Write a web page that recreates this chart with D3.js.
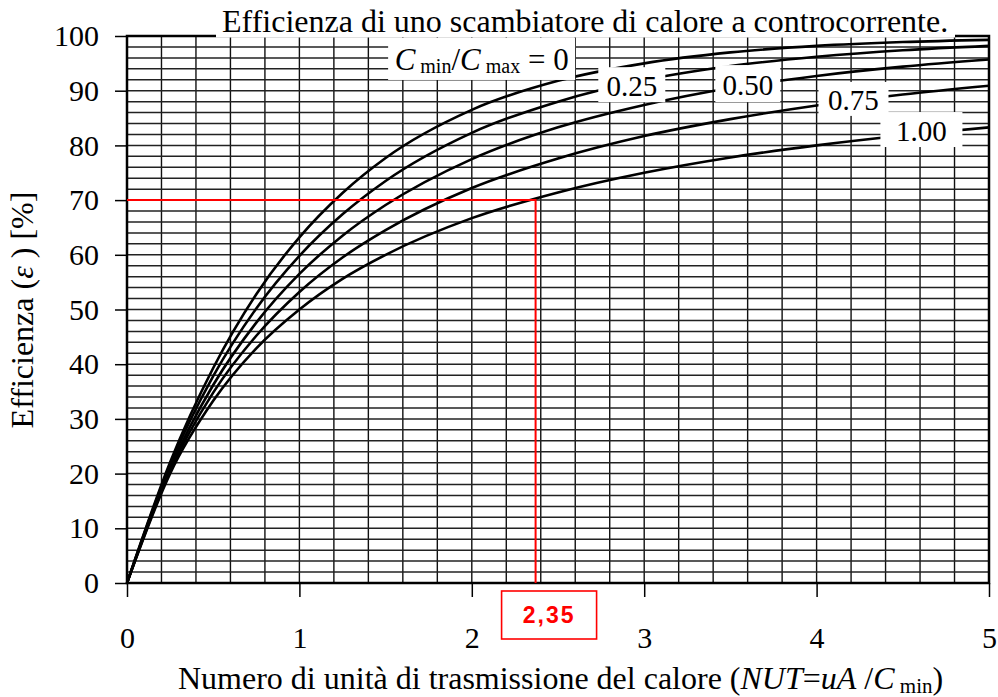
<!DOCTYPE html>
<html>
<head>
<meta charset="utf-8">
<script src="https://cdn.jsdelivr.net/npm/d3@7"></script>
<style>
body { margin: 0; background: #fff; }
text { font-family: "Liberation Serif", "Times New Roman", serif; fill: #000; }
</style>
</head>
<body>
<svg id="figure"></svg>
<script>
// NUT values and efficiency (%), one array per Cmin/Cmax
var nut    = [0, 0.25, 0.5, 0.75, 1, 1.25, 1.5, 2, 2.5, 3, 3.5, 4, 4.5, 5];
var eff0   = [0, 22.1, 39.3, 52.8, 63.2, 71.3, 77.7, 86.5, 91.8, 95.0, 97.0, 98.2, 98.9, 99.3];
var eff25  = [0, 21.6, 37.8, 50.2, 59.8, 67.4, 73.5, 82.3, 88.0, 91.9, 94.5, 96.2, 97.4, 98.2];
var eff50  = [0, 21.0, 36.2, 47.6, 56.5, 63.5, 69.1, 77.5, 83.3, 87.4, 90.5, 92.7, 94.4, 95.7];
var eff75  = [0, 20.5, 34.8, 45.2, 53.2, 59.5, 64.5, 72.2, 77.6, 81.7, 84.8, 87.3, 89.3, 90.9];
var eff100 = [0, 20.0, 33.3, 42.9, 50.0, 55.6, 60.0, 66.7, 71.4, 75.0, 77.8, 80.0, 81.8, 83.3];

var curveLabels = ["0", "0.25", "0.50", "0.75", "1.00"];
var xTicks = [0, 1, 2, 3, 4, 5];
var yTicks = [0, 10, 20, 30, 40, 50, 60, 70, 80, 90, 100];

// reading shown in red
var readNut = 2.37;
var readEff = 70;
var readText = "2,35";

var fullWidth = 998, fullHeight = 697;
var margin = { top: 36, left: 127, right: 9, bottom: 114 };
var width = fullWidth - margin.left - margin.right;
var height = fullHeight - margin.top - margin.bottom;

var svg = d3.select("#figure")
    .attr("width", fullWidth)
    .attr("height", fullHeight);

var g = svg.append("g")
    .attr("transform", "translate(" + margin.left + "," + margin.top + ")");

var x = d3.scaleLinear().domain([0, 5]).range([0, width]);
var y = d3.scaleLinear().domain([0, 100]).range([height, 0]);

// grid
g.selectAll(".vgrid").data(d3.range(1, 25).map(function (i) { return i * 0.2; }))
    .enter().append("line")
    .attr("x1", function (d) { return x(d); }).attr("x2", function (d) { return x(d); })
    .attr("y1", 0).attr("y2", height)
    .attr("stroke", "#111").attr("stroke-width", 1.4);

g.selectAll(".hgrid").data(d3.range(1, 50).map(function (i) { return i * 2; }))
    .enter().append("line")
    .attr("x1", 0).attr("x2", width)
    .attr("y1", function (d) { return y(d); }).attr("y2", function (d) { return y(d); })
    .attr("stroke", "#222").attr("stroke-width", 1.5);

// frame
g.append("rect").attr("width", width).attr("height", height)
    .attr("fill", "none").attr("stroke", "#000").attr("stroke-width", 2.5);

// axes (only the outer ticks + labels)
var yAxis = d3.axisLeft(y).tickValues(yTicks).tickSize(12).tickPadding(16);
var xAxis = d3.axisBottom(x).tickValues(xTicks).tickFormat(d3.format("d")).tickSize(14).tickPadding(30);

var ya = g.append("g").call(yAxis);
var xa = g.append("g").attr("transform", "translate(0," + height + ")").call(xAxis);
[ya, xa].forEach(function (a) {
    a.select(".domain").remove();
    a.selectAll(".tick line").attr("stroke", "#000").attr("stroke-width", 1.5);
    a.selectAll(".tick text")
        .attr("font-family", "Liberation Serif").attr("font-size", 30).attr("fill", "#000");
});

// curves
var series = [eff0, eff25, eff50, eff75, eff100];
var line = d3.line()
    .x(function (d, i) { return x(nut[i]); })
    .y(function (d) { return y(d); })
    .curve(d3.curveMonotoneX);

g.selectAll(".curve").data(series).enter().append("path")
    .attr("d", function (d) { return line(d); })
    .attr("fill", "none").attr("stroke", "#000").attr("stroke-width", 2.6);

// curve labels with white boxes (centre in data units, box size in px)
var labelBoxes = [
    { nx: 2.057, ny: 95.8, w: 187, h: 42 },
    { nx: 2.928, ny: 91.1, w: 67, h: 35 },
    { nx: 3.601, ny: 91.3, w: 65, h: 37 },
    { nx: 4.214, ny: 88.5, w: 70, h: 34 },
    { nx: 4.608, ny: 82.9, w: 82, h: 35 }
];

labelBoxes.forEach(function (b, i) {
    g.append("rect")
        .attr("x", x(b.nx) - b.w / 2).attr("y", y(b.ny) - b.h / 2)
        .attr("width", b.w).attr("height", b.h).attr("fill", "#fff");
    var t = g.append("text")
        .attr("font-size", 29)
        .attr("y", y(b.ny) + 11);
    if (i === 0) {
        t.attr("x", x(b.nx) - 87).attr("font-size", 31);
        t.append("tspan").attr("font-style", "italic").text("C");
        t.append("tspan").attr("font-size", 20).attr("dy", 3).text(" min");
        t.append("tspan").attr("dy", -3).text("/");
        t.append("tspan").attr("font-style", "italic").text("C");
        t.append("tspan").attr("font-size", 20).attr("dy", 3).text(" max");
        t.append("tspan").attr("dy", -3).text(" = " + curveLabels[i]);
    } else {
        t.attr("x", x(b.nx)).attr("text-anchor", "middle").text(curveLabels[i]);
    }
});

// red reading lines and value box
g.append("path")
    .attr("d", "M0," + y(readEff) + "H" + x(readNut) + "V" + height)
    .attr("fill", "none").attr("stroke", "#ff0000").attr("stroke-width", 2);

g.append("rect")
    .attr("x", x(readNut) - 34).attr("y", height + 8)
    .attr("width", 95).attr("height", 48)
    .attr("fill", "#fff").attr("stroke", "#ff0000").attr("stroke-width", 1.6);
g.append("text")
    .attr("x", x(readNut) + 13.5).attr("y", height + 40)
    .attr("text-anchor", "middle")
    .style("font-family", "'Liberation Sans', Arial, sans-serif")
    .style("font-weight", "bold").style("fill", "#ff0000")
    .attr("font-size", 23).attr("letter-spacing", 2)
    .text(readText);

// title with white background over the top frame
svg.append("rect").attr("x", 216).attr("y", 0).attr("width", 739).attr("height", 37.5).attr("fill", "#fff");
svg.append("text").attr("x", 222).attr("y", 32).attr("font-size", 32)
    .text("Efficienza di uno scambiatore di calore a controcorrente.");

// axis titles
var yt = svg.append("text")
    .attr("transform", "translate(33,310) rotate(-90)")
    .attr("text-anchor", "middle").attr("font-size", 32);
yt.append("tspan").text("Efficienza (");
yt.append("tspan").attr("font-style", "italic").text("ε");
yt.append("tspan").text(" ) [%]");

var xt = svg.append("text")
    .attr("x", 178).attr("y", 689).attr("font-size", 32);
xt.append("tspan").text("Numero di unità di trasmissione del calore (");
xt.append("tspan").attr("font-style", "italic").text("NUT");
xt.append("tspan").text("=");
xt.append("tspan").attr("font-style", "italic").text("uA");
xt.append("tspan").text(" /");
xt.append("tspan").attr("font-style", "italic").text("C");
xt.append("tspan").attr("font-size", 21).attr("dy", 4).text(" min");
xt.append("tspan").attr("dy", -4).text(")");
</script>
</body>
</html>
